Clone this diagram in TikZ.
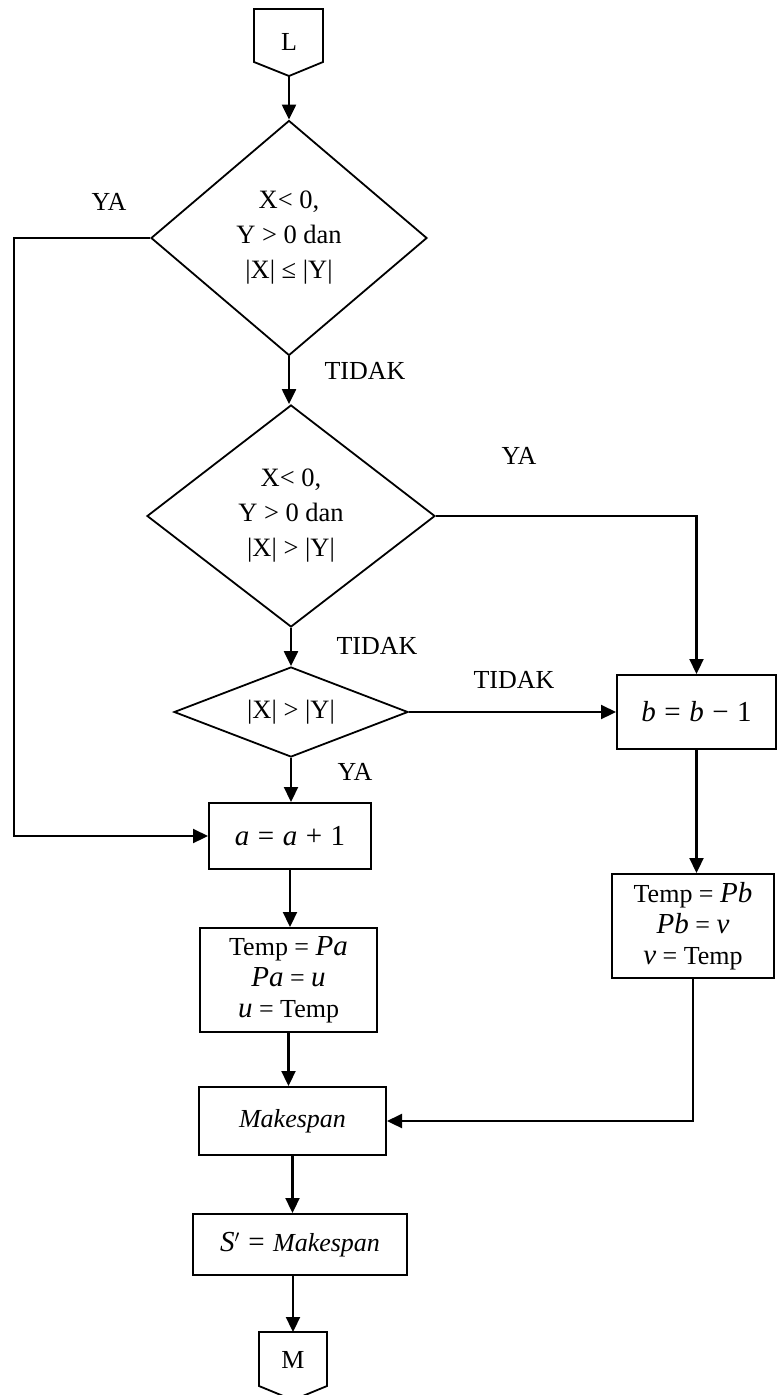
\documentclass[tikz,border=0pt]{standalone}
\usepackage{fontspec}
\setmainfont{Liberation Serif}
\usetikzlibrary{arrows.meta,shapes.geometric,calc}
\newcommand{\mv}[1]{{\fontsize{29pt}{31pt}\selectfont\textit{#1}}}
\newcommand{\mn}[1]{{\fontsize{29pt}{31pt}\selectfont #1}}
\newcommand{\gapsp}{\hspace{2pt}}
\begin{document}
\begin{tikzpicture}[x=1pt,y=-1pt,
  every node/.style={font=\fontsize{26pt}{31pt}\selectfont},
  box/.style={draw,line width=2pt,inner sep=0pt,align=center},
  dia/.style={draw,diamond,line width=1.8pt,inner sep=0pt},
  dtext/.style={align=center,inner sep=0pt,font=\fontsize{26.5pt}{35pt}\selectfont},
  lbl/.style={inner sep=0pt},
  arr/.style={line width=2.2pt,-{Triangle[length=15pt,width=14pt]}},
  conn/.style={line width=1.8pt,line join=miter}]
\useasboundingbox (0,0) rectangle (777,1395);

% off-page connector L
\draw[conn] (254,9) -- (323,9) -- (323,62) -- (289,76) -- (254,62) -- cycle;
\node[lbl] (L) at (289,42) {L};
\coordinate (Ltip) at (289,76);

% decisions
\node[dia,minimum width=276pt,minimum height=235pt] (d1) at (289,238) {};
\node[dtext] (t1) at (d1) {X< 0,\\Y > 0 dan\\|X| ≤ |Y|};
\node[dia,minimum width=288pt,minimum height=222pt] (d2) at (291,516) {};
\node[dtext] (t2) at (d2) {X< 0,\\Y > 0 dan\\|X| > |Y|};
\node[dia,minimum width=234pt,minimum height=90pt] (d3) at (291,712) {};
\node[dtext] (t3) at (d3) {|X| > |Y|};

% process boxes
\node[box,minimum width=162pt,minimum height=66pt] (a) at (290,836) {\mv{a} \gapsp\mn{=} \gapsp\mv{a} \gapsp\mn{+} \gapsp\mn{1}};
\node[box,minimum width=177pt,minimum height=104pt] (tpa) at (288.5,980) {Temp = \mv{Pa}\\\mv{Pa} = \mv{u}\\\mv{u} = Temp};
\node[box,minimum width=187pt,minimum height=68pt] (mk) at (292.5,1121) {\textit{Makespan}};
\node[box,minimum width=214pt,minimum height=61pt] (sp) at (300,1244.5) {\mv{S}$'$ \gapsp\mn{=} \gapsp\textit{Makespan}};
\node[box,minimum width=159pt,minimum height=74pt] (b) at (696.5,712) {\mv{b} \gapsp\mn{=} \gapsp\mv{b} \gapsp\mn{−} \gapsp\mn{1}};
\node[box,minimum width=162pt,minimum height=104pt] (tpb) at (693,926) {Temp = \mv{Pb}\\\mv{Pb} = \mv{v}\\\mv{v} = Temp};

% off-page connector M
\coordinate (Mtop) at (293,1332);
\draw[conn] (259,1332) -- (327,1332) -- (327,1386) -- (293,1400) -- (259,1386) -- cycle;
\node[lbl] (M) at (293,1360) {M};

% connectors
\draw[arr] (Ltip) -- (Ltip |- d1.north);
\draw[arr] (d1.south) -- (d1.south |- d2.north);
\draw[arr] (d2.south) -- (d3.north);
\draw[arr] (d3.south) -- (d3.south |- a.north);
\draw[arr] (a.south) -- (a.south |- tpa.north);
\draw[arr] (tpa.south) -- (tpa.south |- mk.north);
\draw[arr] (mk.south) -- (mk.south |- sp.north);
\draw[arr] (Mtop |- sp.south) -- (Mtop);
\draw[arr] (d1.west) -- (14,238) |- (a.west);
\draw[arr] (d2.east) -| (b.north);
\draw[arr] (d3.east) -- (b.west);
\draw[arr] (b.south) -- (b.south |- tpb.north);
\draw[arr] (tpb.south) |- (mk.east);

% labels
\node[lbl] (ya1) at (109,202) {YA};
\node[lbl] (tk1) at (365,371) {TIDAK};
\node[lbl] (ya2) at (519,456) {YA};
\node[lbl] (tk2) at (377,646) {TIDAK};
\node[lbl] (tk3) at (514,680) {TIDAK};
\node[lbl] (ya3) at (355,772) {YA};
\end{tikzpicture}
\end{document}
